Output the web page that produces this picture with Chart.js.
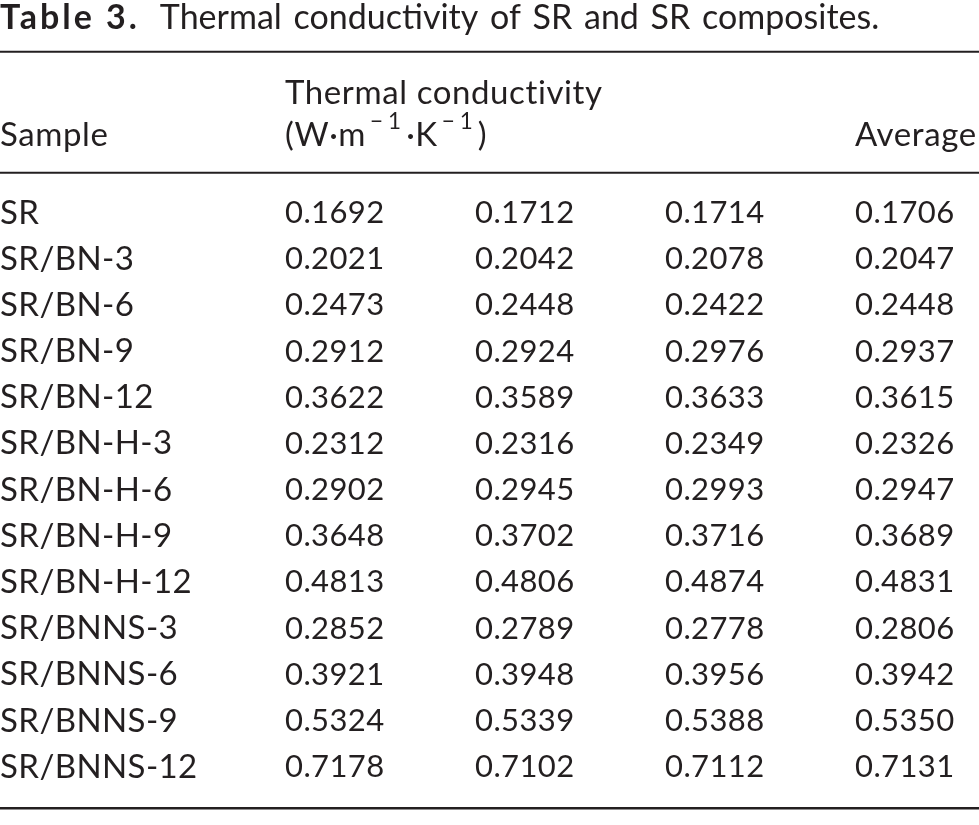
<!DOCTYPE html>
<html>
<head>
<meta charset="utf-8">
<script src="https://cdn.jsdelivr.net/npm/chart.js@4.4.0/dist/chart.umd.min.js"></script>
<style>
  html, body { margin: 0; background: #fff; }
  #wrap { width: 979px; height: 825px; }
</style>
</head>
<body>
<div id="wrap"><canvas id="tbl" width="979" height="825"></canvas></div>
<script>
// table data
const samples = [
  'SR', 'SR/BN-3', 'SR/BN-6', 'SR/BN-9', 'SR/BN-12',
  'SR/BN-H-3', 'SR/BN-H-6', 'SR/BN-H-9', 'SR/BN-H-12',
  'SR/BNNS-3', 'SR/BNNS-6', 'SR/BNNS-9', 'SR/BNNS-12'
];
const run1 = [0.1692, 0.2021, 0.2473, 0.2912, 0.3622, 0.2312, 0.2902, 0.3648, 0.4813, 0.2852, 0.3921, 0.5324, 0.7178];
const run2 = [0.1712, 0.2042, 0.2448, 0.2924, 0.3589, 0.2316, 0.2945, 0.3702, 0.4806, 0.2789, 0.3948, 0.5339, 0.7102];
const run3 = [0.1714, 0.2078, 0.2422, 0.2976, 0.3633, 0.2349, 0.2993, 0.3716, 0.4874, 0.2778, 0.3956, 0.5388, 0.7112];
const average = [0.1706, 0.2047, 0.2448, 0.2937, 0.3615, 0.2326, 0.2947, 0.3689, 0.4831, 0.2806, 0.3942, 0.5350, 0.7131];

const titleBold = 'Table 3.';
const titleText = 'Thermal conductivity of SR and SR composites.';
const headSample = 'Sample';
const headThermal = 'Thermal conductivity';
const headUnit = ['(W·m', '−1', '·K', '−1', ')']; // plain / sup / plain / sup / plain
const headAverage = 'Average';

// layout (scale units)
const colX = [0, 1.5, 2.5, 3.5, 4.5];
const ROW_TITLE = -4.22, RULE_TOP = -3.49, ROW_THERMAL = -2.6, ROW_HEAD = -1.69, RULE_MID = -0.87, RULE_BOTTOM = 12.89;

const INK = '#231f20';
const FONT = 'Lato';
const NUM_SIZE = 31;
const TXT_SIZE = 33;
const TITLE_SIZE = 34;

const columns = [samples, run1, run2, run3, average];

const tablePlugin = {
  id: 'tableText',
  afterDatasetsDraw(chart) {
    const ctx = chart.ctx;
    const xs = chart.scales.x, ys = chart.scales.y;
    ctx.save();
    ctx.fillStyle = INK;
    ctx.strokeStyle = INK;
    ctx.textBaseline = 'middle';
    ctx.textAlign = 'left';

    // title
    const ty = ys.getPixelForValue(ROW_TITLE);
    const x0 = xs.getPixelForValue(0);
    ctx.font = `bold ${TITLE_SIZE}px ${FONT}`;
    ctx.letterSpacing = '3px';
    ctx.fillText(titleBold, x0, ty);
    const w = ctx.measureText(titleBold).width;
    ctx.font = `${TITLE_SIZE}px ${FONT}`;
    ctx.letterSpacing = '0px';
    ctx.wordSpacing = '3px';
    ctx.fillText(titleText, x0 + w + 20, ty);
    ctx.wordSpacing = '0px';

    // rules
    [[RULE_TOP, 2], [RULE_MID, 2], [RULE_BOTTOM, 2.5]].forEach(([v, lw]) => {
      const y = ys.getPixelForValue(v);
      ctx.lineWidth = lw;
      ctx.beginPath();
      ctx.moveTo(chart.chartArea.left, y);
      ctx.lineTo(chart.chartArea.right, y);
      ctx.stroke();
    });

    // headers
    ctx.font = `${TXT_SIZE}px ${FONT}`;
    ctx.letterSpacing = '0.6px';
    ctx.fillText(headSample, xs.getPixelForValue(colX[0]), ys.getPixelForValue(ROW_HEAD));
    ctx.fillText(headThermal, xs.getPixelForValue(colX[1]), ys.getPixelForValue(ROW_THERMAL));
    ctx.fillText(headAverage, xs.getPixelForValue(colX[4]), ys.getPixelForValue(ROW_HEAD));
    let ux = xs.getPixelForValue(colX[1]);
    const uy = ys.getPixelForValue(ROW_HEAD);
    headUnit.forEach((part, i) => {
      const sup = i % 2 === 1;
      ctx.font = sup ? `${TXT_SIZE * 0.68}px ${FONT}` : `${TXT_SIZE}px ${FONT}`;
      ctx.letterSpacing = sup ? '5px' : '0.6px';
      if (sup) ux += 4;
      ctx.fillText(part, ux, sup ? uy - TXT_SIZE * 0.4 : uy);
      ux += ctx.measureText(part).width;
    });

    // cells
    chart.data.datasets.forEach((ds, di) => {
      const meta = chart.getDatasetMeta(di);
      meta.data.forEach((pt, i) => {
        const v = columns[di][i];
        const isNum = typeof v === 'number';
        ctx.font = `${isNum ? NUM_SIZE : TXT_SIZE}px ${FONT}`;
        ctx.letterSpacing = isNum ? '0.4px' : '0.4px';
        ctx.fillText(isNum ? v.toFixed(4) : v, pt.x, pt.y);
      });
    });
    ctx.restore();
  }
};

new Chart(document.getElementById('tbl'), {
  type: 'scatter',
  data: {
    datasets: columns.map((col, c) => ({
      data: col.map((_, i) => ({ x: colX[c], y: i })),
      pointRadius: 0,
      pointHoverRadius: 0
    }))
  },
  options: {
    responsive: false,
    animation: false,
    devicePixelRatio: 1,
    layout: { padding: 0 },
    plugins: { legend: { display: false }, tooltip: { enabled: false } },
    events: [],
    scales: {
      x: { type: 'linear', display: false, min: 0, max: 979 / 190 },
      y: { type: 'linear', display: false, reverse: true, min: -213 / 46.17, max: (825 - 213) / 46.17 }
    }
  },
  plugins: [tablePlugin]
});
</script>
</body>
</html>
